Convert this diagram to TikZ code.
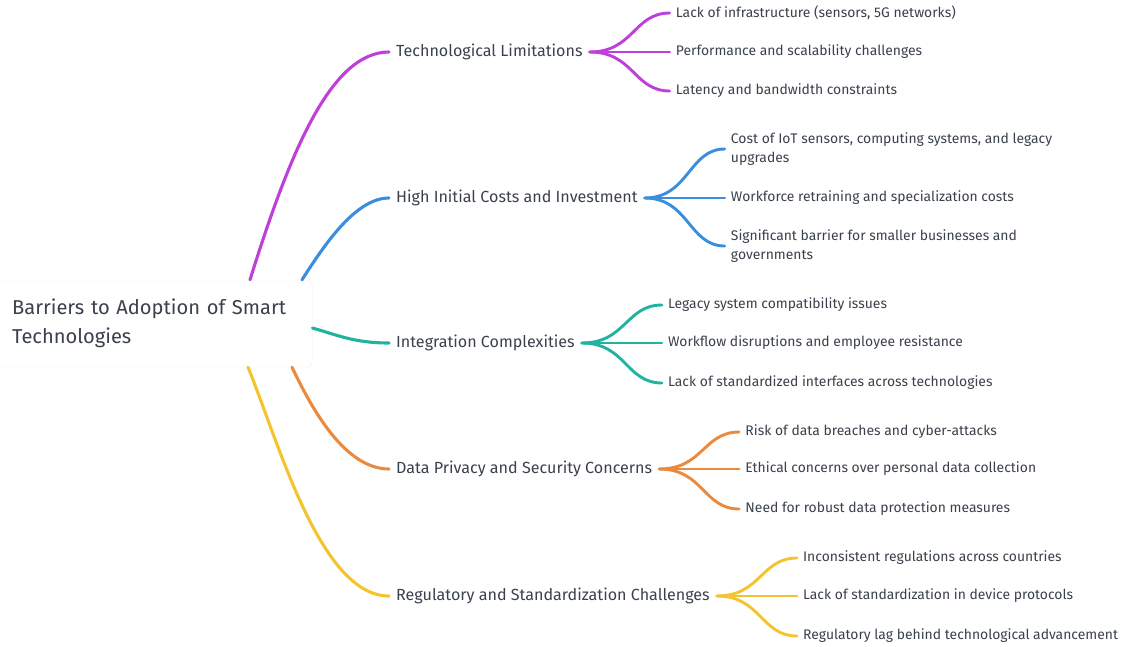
\documentclass[tikz,border=0pt]{standalone}
\usepackage{fontspec}
\setmainfont{Fira Sans}
\usetikzlibrary{calc}
\definecolor{cpur}{HTML}{BE3FD9}
\definecolor{cblu}{HTML}{3B8EDE}
\definecolor{ctea}{HTML}{22B3A0}
\definecolor{cora}{HTML}{E98A3F}
\definecolor{cyel}{HTML}{F4C430}
\definecolor{ctext}{HTML}{3A414C}
\begin{document}
\begin{tikzpicture}[x=1pt,y=-1pt,
  txt/.style={text=ctext, inner sep=0pt, anchor=west},
  lvl1/.style={txt, font=\fontsize{16.1}{19}\selectfont},
  lvl2/.style={txt, font=\fontsize{13.9}{18.5}\selectfont, align=left},
  rootbox/.style={anchor=west, fill=white, draw=black!7, rounded corners=5pt,
    text=ctext, font=\fontsize{20.1}{29}\selectfont, align=left,
    text width=278pt, inner xsep=22pt, minimum height=87pt},
  branch/.style={line width=3.1pt, line cap=round},
  fork/.style={line width=2.9pt, line cap=round}]
\useasboundingbox (0,0) rectangle (1121,646);

\node[rootbox] (root) at (-10,323.5) {Barriers to Adoption of Smart\\Technologies};

\node[lvl1] (t1) at (396,52) {Technological Limitations};
\node[lvl1] (t2) at (396,198) {High Initial Costs and Investment};
\node[lvl1] (t3) at (396,343) {Integration Complexities};
\node[lvl1] (t4) at (396,469) {Data Privacy and Security Concerns};
\node[lvl1] (t5) at (396,596) {Regulatory and Standardization Challenges};

\node[lvl2] (t1a) at ($(t1.east)+(93,-39)$) {Lack of infrastructure (sensors, 5G networks)};
\node[lvl2] (t1b) at ($(t1.east)+(93,0)$) {Performance and scalability challenges};
\node[lvl2] (t1c) at ($(t1.east)+(93,39)$) {Latency and bandwidth constraints};

\node[lvl2] (t2a) at ($(t2.east)+(93,-49)$) {Cost of IoT sensors, computing systems, and legacy\\upgrades};
\node[lvl2] (t2b) at ($(t2.east)+(93,0)$) {Workforce retraining and specialization costs};
\node[lvl2] (t2c) at ($(t2.east)+(93,48)$) {Significant barrier for smaller businesses and\\governments};

\node[lvl2] (t3a) at ($(t3.east)+(93,-38)$) {Legacy system compatibility issues};
\node[lvl2] (t3b) at ($(t3.east)+(93,0)$) {Workflow disruptions and employee resistance};
\node[lvl2] (t3c) at ($(t3.east)+(93,40)$) {Lack of standardized interfaces across technologies};

\node[lvl2] (t4a) at ($(t4.east)+(93,-37)$) {Risk of data breaches and cyber-attacks};
\node[lvl2] (t4b) at ($(t4.east)+(93,0)$) {Ethical concerns over personal data collection};
\node[lvl2] (t4c) at ($(t4.east)+(93,40)$) {Need for robust data protection measures};

\node[lvl2] (t5a) at ($(t5.east)+(93,-38)$) {Inconsistent regulations across countries};
\node[lvl2] (t5b) at ($(t5.east)+(93,0)$) {Lack of standardization in device protocols};
\node[lvl2] (t5c) at ($(t5.east)+(93,40)$) {Regulatory lag behind technological advancement};

% root branches
\draw[branch,cpur] ($(root.north west)+(260,0)$) .. controls +(40,-128) and +(-58,0) .. ($(t1.west)+(-7,0)$);
\draw[branch,cblu] ($(root.north west)+(312,0)$) .. controls +(23,-36) and +(-33,0) .. ($(t2.west)+(-7,0)$);
\draw[branch,ctea] ($(root.east)+(0,4.5)$) .. controls +(25,7) and +(-35,0) .. ($(t3.west)+(-7,0)$);
\draw[branch,cora] ($(root.south west)+(302,0)$) .. controls +(20,42) and +(-44,0) .. ($(t4.west)+(-7,0)$);
\draw[branch,cyel] ($(root.south west)+(258,0)$) .. controls +(30,73) and +(-69,0) .. ($(t5.west)+(-7,0)$);

% forks
\foreach \p/\c in {t1/cpur,t2/cblu,t3/ctea,t4/cora,t5/cyel}{
  \foreach \k in {a,b,c}{
    \draw[fork,\c] ($(\p.east)+(7,0)$) .. controls +(44,0) and +(-36,0) .. ($(\p\k.west)+(-6,0)$);
  }
}
\end{tikzpicture}
\end{document}
